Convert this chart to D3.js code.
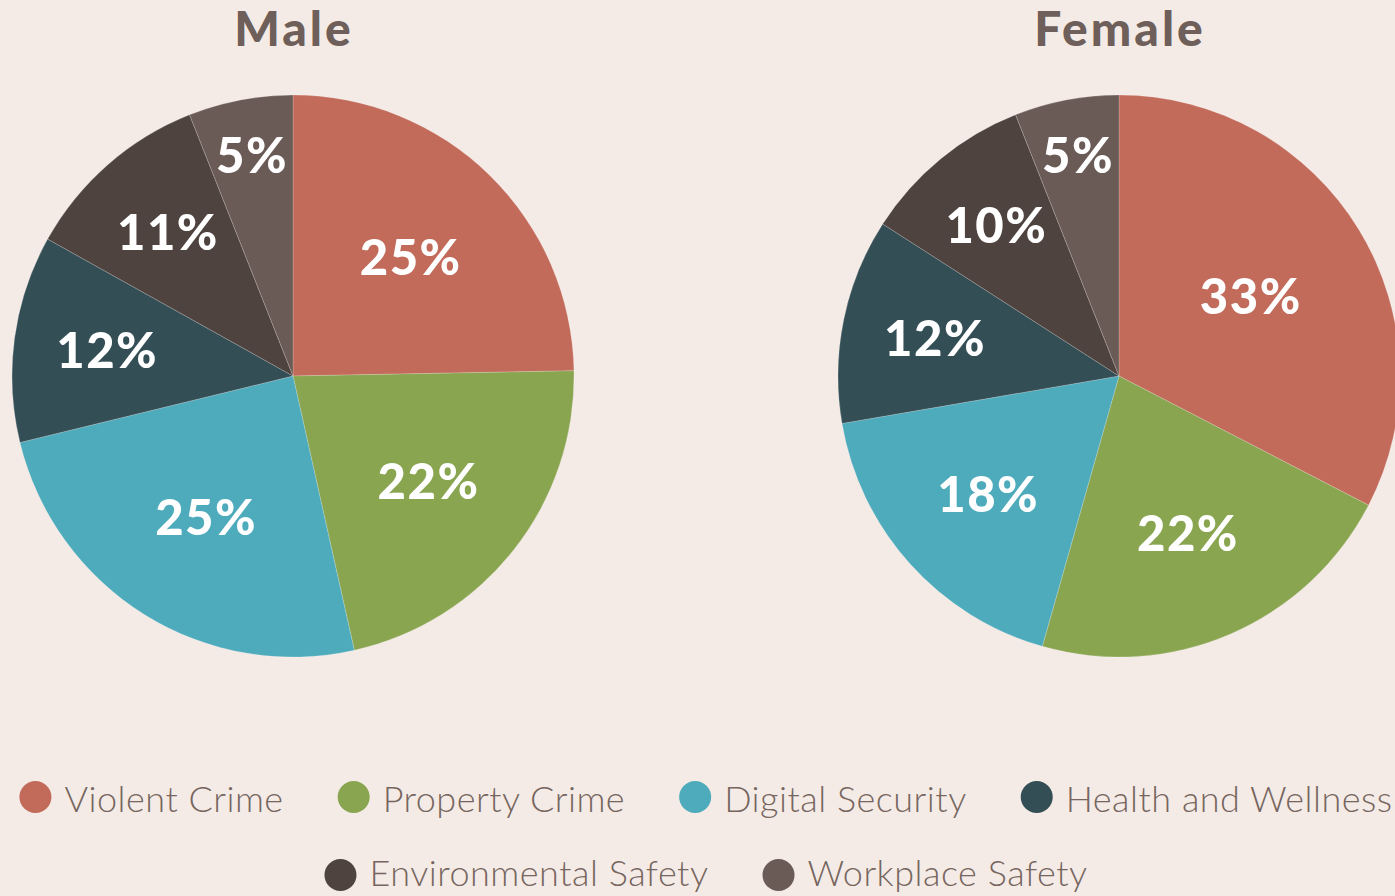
<!DOCTYPE html>
<html>
<head>
<meta charset="utf-8">
<script src="https://cdnjs.cloudflare.com/ajax/libs/d3/7.8.5/d3.min.js"></script>
<style>
  html, body { margin: 0; padding: 0; background: #f5ebe6; }
  svg { display: block; }
</style>
</head>
<body>
<svg id="chart" width="1395" height="896"></svg>
<script>
const categories = ["Violent Crime", "Property Crime", "Digital Security", "Health and Wellness", "Environmental Safety", "Workplace Safety"];
const colors = ["#c26b5b", "#89a550", "#4dabbc", "#344e56", "#4f433f", "#6b5b56"];
const maleValues = [24.7, 21.8, 24.7, 11.9, 10.9, 6.0];
const maleLabels = ["25%", "22%", "25%", "12%", "11%", "5%"];
const femaleValues = [32.6, 21.8, 17.9, 11.8, 9.9, 6.0];
const femaleLabels = ["33%", "22%", "18%", "12%", "10%", "5%"];
const titles = ["Male", "Female"];

const svg = d3.select("#chart");
const R = 281;
const centers = [{x: 293, y: 376}, {x: 1119, y: 376}];
const FONT = "Lato, 'Open Sans', sans-serif";

const pie = d3.pie().sort(null).value(d => d.v);
const arc = d3.arc().innerRadius(0).outerRadius(R);

function drawPie(idx, values, labels) {
  const c = centers[idx];
  const g = svg.append("g").attr("transform", `translate(${c.x},${c.y})`);
  const data = pie(values.map((v, i) => ({v, i, label: labels[i]})));
  g.selectAll("path").data(data).join("path")
    .attr("d", arc)
    .attr("fill", d => colors[d.data.i])
    .attr("stroke", "rgba(255,255,255,0.18)")
    .attr("stroke-width", 1);
  g.selectAll("text").data(data).join("text")
    .attr("transform", d => {
      const th = d.endAngle - d.startAngle;
      const mid = (d.startAngle + d.endAngle) / 2;
      const cen = 4 * Math.sin(th / 2) / (3 * th);
      const frac = cen * 0.97 + 0.022 / (th * th);
      const r = R * Math.min(frac, 0.82);
      return `translate(${r * Math.sin(mid) + 1},${-r * Math.cos(mid)})`;
    })
    .attr("text-anchor", "middle")
    .attr("dy", "0.36em")
    .attr("fill", "#ffffff")
    .attr("font-family", FONT)
    .attr("font-weight", 900)
    .attr("font-size", 49)
    .attr("letter-spacing", 1.5)
    .text(d => d.data.label);
  svg.append("text")
    .attr("x", c.x + 1).attr("y", 46)
    .attr("text-anchor", "middle")
    .attr("fill", "#6e5f5a")
    .attr("font-family", FONT)
    .attr("font-weight", 900)
    .attr("font-size", 48)
    .attr("letter-spacing", 3)
    .text(titles[idx]);
}

drawPie(0, maleValues, maleLabels);
drawPie(1, femaleValues, femaleLabels);

// Legend
const rows = [[0, 1, 2, 3], [4, 5]];
const rowY = [797, 875];
const rowBaseline = [812, 886];
const legendCenter = 706;
const circR = 16, textGap = 29, itemGap = 54;
rows.forEach((row, ri) => {
  const lg = svg.append("g");
  const items = row.map(i => {
    const t = lg.append("text")
      .attr("font-family", FONT)
      .attr("font-weight", 300)
      .attr("font-size", 36)
      .attr("letter-spacing", 0.5)
      .attr("fill", "#76665f")
      .text(categories[i]);
    return {i, t, w: t.node().getComputedTextLength()};
  });
  const total = items.reduce((s, it) => s + circR + textGap + it.w, 0) + itemGap * (items.length - 1);
  let x = legendCenter - total / 2;
  items.forEach(it => {
    lg.append("circle").attr("cx", x + circR).attr("cy", rowY[ri]).attr("r", circR).attr("fill", colors[it.i]);
    it.t.attr("x", x + circR + textGap).attr("y", rowBaseline[ri]);
    x += circR + textGap + it.w + itemGap;
  });
});
</script>
</body>
</html>
